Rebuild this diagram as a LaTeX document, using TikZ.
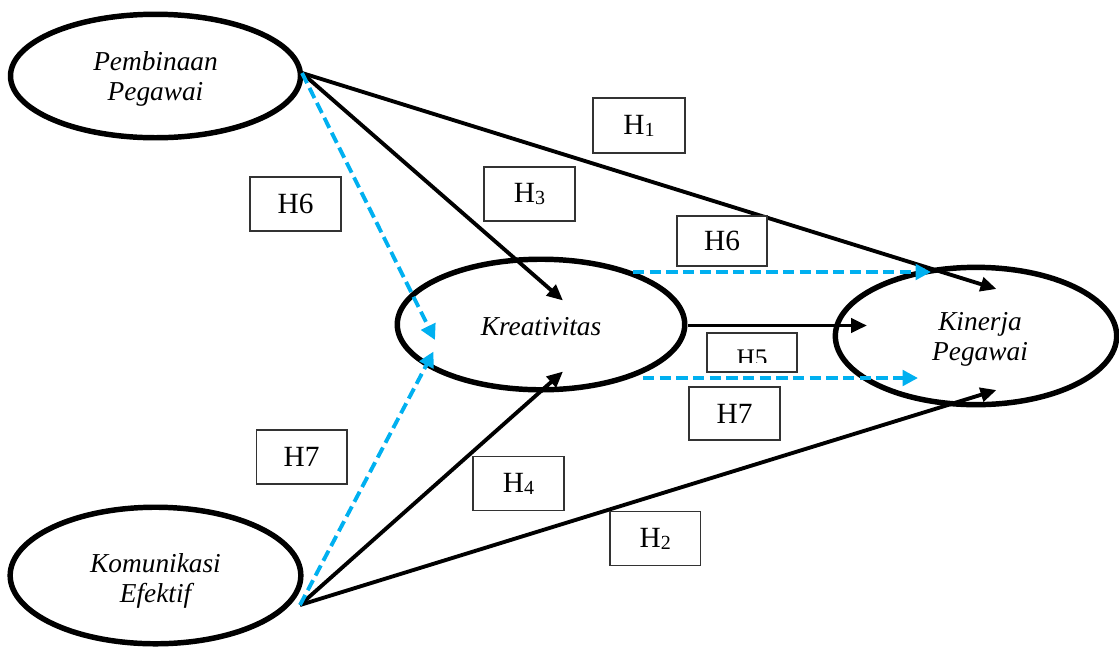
\documentclass[tikz,border=0pt]{standalone}
\usepackage{fontspec}
\setmainfont{Liberation Serif}
\usetikzlibrary{arrows.meta,shapes.geometric}
\definecolor{hblue}{HTML}{00B0F0}
\newcommand{\hsub}[1]{\raisebox{-1.5pt}{\fontsize{15}{15}\selectfont #1}}
\begin{document}
\begin{tikzpicture}[x=0.75pt,y=-0.75pt,
  construct/.style={ellipse, draw, line width=4.1pt, inner sep=0pt},
  lbl/.style={font=\fontsize{20.5}{22.5}\selectfont\itshape, align=center, inner sep=0pt, anchor=base},
  hbox/.style={draw=black!80, line width=1pt, fill=white, inner sep=0pt,
    font=\fontsize{22}{24}\selectfont},
  direct/.style={line width=2.9pt, -{Triangle[length=12pt,width=10.5pt]}},
  mediated/.style={hblue, line width=2.9pt, dash pattern=on 8.5pt off 4pt,
    -{Triangle[length=11.5pt,width=11.5pt]}},
]
\useasboundingbox (0,0) rectangle (1119,647);

% constructs
\node[construct, minimum width=217.5pt, minimum height=92.6pt] (pp) at (155.5,76) {};
\node[construct, minimum width=215.6pt, minimum height=97.9pt] (kr) at (541,324.5) {};
\node[construct, minimum width=211pt, minimum height=103pt] (kp) at (976,336) {};
\node[construct, minimum width=218pt, minimum height=102.4pt] (ke) at (155.5,575.5) {};

\node[lbl] (ppt) at (155.5,100) {Pembinaan\\Pegawai};
\node[lbl] (krt) at (541,335) {Kreativitas};
\node[lbl] (kpt) at (980,360) {Kinerja\\Pegawai};
\node[lbl] (ket) at (155.5,602) {Komunikasi\\Efektif};

% connector end points
\coordinate (ppo) at (302,73);
\coordinate (keo) at (300,605);
\coordinate (kro) at (688,325.5);
\coordinate (krh6) at (633,272);
\coordinate (krh7) at (643,378);
\coordinate (tH3) at (563,300.5);
\coordinate (tH4) at (563,371.5);
\coordinate (tH6a) at (435,340);
\coordinate (tH7a) at (433.5,351.5);
\coordinate (tH1) at (996.5,289);
\coordinate (tH2) at (996.5,390);
\coordinate (tH5) at (867,325.5);
\coordinate (tH6b) at (931,272);
\coordinate (tH7b) at (918,378);

% connectors
\draw[direct] (ppo) -- (tH1);
\draw[direct] (ppo) -- (tH3);
\draw[mediated] (ppo) -- (tH6a);
\draw[direct] (keo) -- (tH2);
\draw[direct] (keo) -- (tH4);
\draw[mediated] (keo) -- (tH7a);
\draw[direct] (kro) -- (tH5);
\draw[mediated] (krh6) -- (tH6b);
\draw[mediated] (krh7) -- (tH7b);

% hypothesis boxes
\node[hbox, minimum width=69pt, minimum height=41.25pt] (h1) at (639,125.5) {H\hsub{1}};
\node[hbox, minimum width=68.25pt, minimum height=40.5pt] (h3) at (529.5,194) {H\hsub{3}};
\node[hbox, minimum width=68.25pt, minimum height=40.5pt] (h6a) at (295.5,204) {H6};
\node[hbox, minimum width=67.5pt, minimum height=37.5pt] (h6b) at (722,241) {H6};
\node[hbox, minimum width=67.5pt, minimum height=29.25pt] (h5) at (752,352.5) {};
\begin{scope}
  \clip (708,334) rectangle (796,362);
  \node[font=\fontsize{19}{20}\selectfont, inner sep=0pt, anchor=base] (h5t) at (752,366) {H5};
\end{scope}
\node[hbox, minimum width=68.25pt, minimum height=39.75pt] (h7b) at (734.5,413.5) {H7};
\node[hbox, minimum width=68pt, minimum height=40.5pt] (h7a) at (301.5,457) {H7};
\node[hbox, minimum width=68.25pt, minimum height=40.5pt] (h4) at (518.5,483.7) {H\hsub{4}};
\node[hbox, minimum width=68pt, minimum height=40.5pt] (h2) at (655.3,538.7) {H\hsub{2}};
\end{tikzpicture}
\end{document}
